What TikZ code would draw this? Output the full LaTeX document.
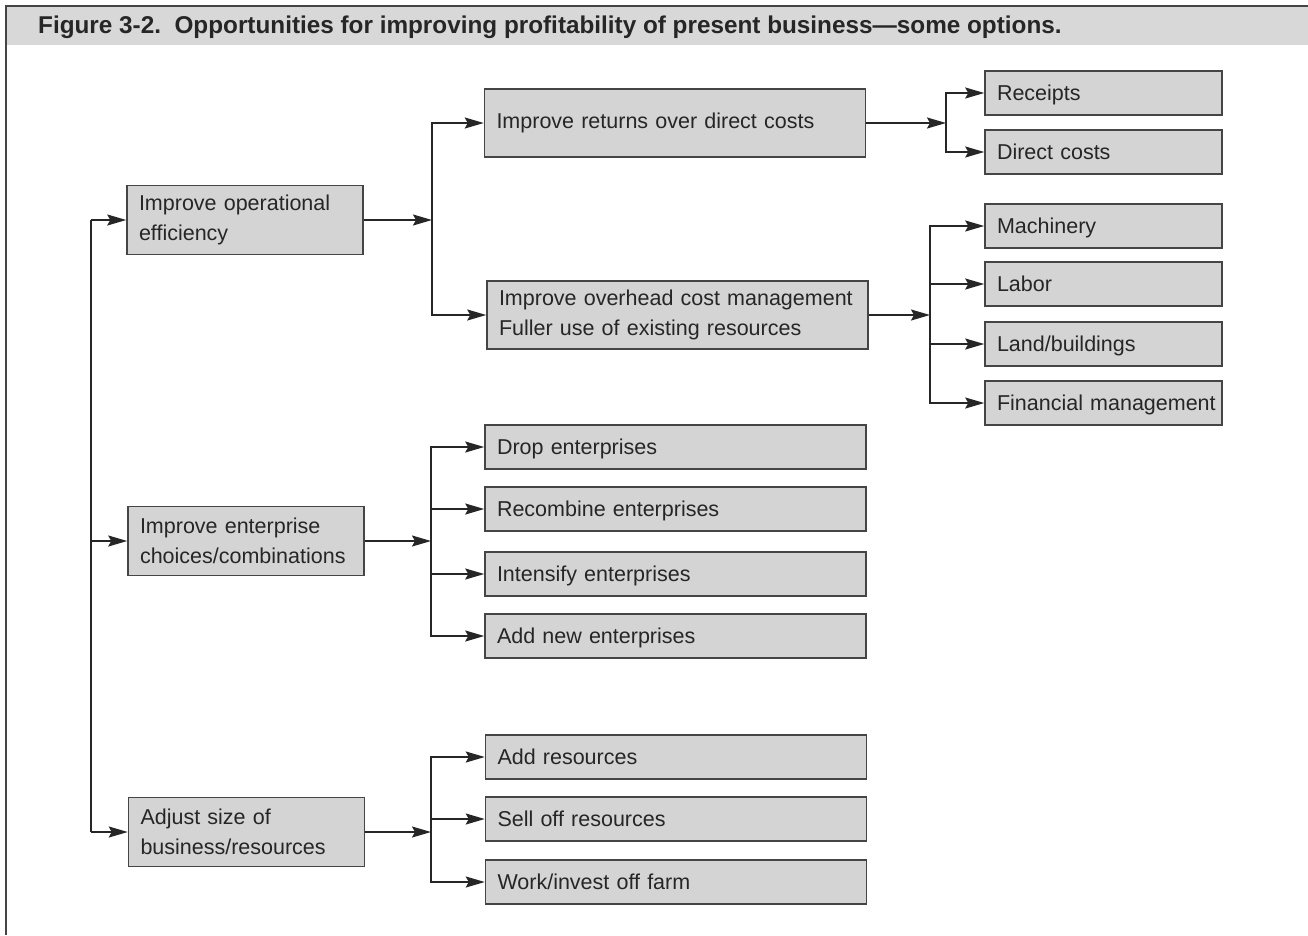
\documentclass[tikz,border=0pt]{standalone}
\usepackage{fontspec}
\setmainfont{Liberation Sans}
\usetikzlibrary{arrows.meta}
\definecolor{boxfill}{HTML}{D4D4D4}
\definecolor{barfill}{HTML}{D8D8D8}
\definecolor{edge}{HTML}{454545}
\definecolor{ink}{HTML}{262626}
\tikzset{
  bx/.style={draw=edge, fill=boxfill, line width=1.5pt, inner xsep=12pt, inner ysep=0pt,
    font=\fontsize{21.5}{30}\selectfont, text=ink, align=left, anchor=center},
  wideA/.style={bx, text width=212pt, minimum height=69pt},
  wideB/.style={bx, text width=357pt, minimum height=68pt},
  leafC/.style={bx, text width=213pt, minimum height=44pt, text height=15.5pt, text depth=0pt},
  leafD/.style={bx, text width=357pt, minimum height=44pt, text height=15.5pt, text depth=0pt},
  conn/.style={draw=ink, line width=1.7pt},
  arr/.style={conn, -{Stealth[inset=3pt, length=19pt, width=11pt]}},
}
\begin{document}
\begin{tikzpicture}[x=1pt, y=-1pt]
\useasboundingbox (0,0) rectangle (1308,935);
% frame and title bar
\fill[barfill] (6,6) rectangle (1308,45);
\draw[edge, line width=1.5pt] (1308,6) -- (6,6) -- (6,935);
\node[anchor=base west, font=\bfseries\fontsize{24.3}{28}\selectfont, text=ink, inner sep=0pt] (title) at (38,33)
  {Figure 3-2.\ \ Opportunities for improving profitability of present business---some options.};

% level A
\node[wideA] (A1) at (245,220) {Improve operational\\efficiency};
\node[wideA] (A2) at (246,541) {Improve enterprise\\choices/combinations};
\node[wideA] (A3) at (246.5,832) {Adjust size of\\business/resources};

% level B
\node[wideB] (B1) at (675,123) {Improve returns over direct costs};
\node[wideB] (B2) at (677.5,315) {Improve overhead cost management\\Fuller use of existing resources};

% level C
\node[leafC] (C1) at (1103.5,93) {Receipts};
\node[leafC] (C2) at (1103.5,152) {Direct costs};
\node[leafC] (C3) at (1103.5,226) {Machinery};
\node[leafC] (C4) at (1103.5,284) {Labor};
\node[leafC] (C5) at (1103.5,344) {Land/buildings};
\node[leafC] (C6) at (1103.5,403) {\mbox{Financial management}};

% enterprise options
\node[leafD] (D1) at (675.5,447) {Drop enterprises};
\node[leafD] (D2) at (675.5,509) {Recombine enterprises};
\node[leafD] (D3) at (675.5,574) {Intensify enterprises};
\node[leafD] (D4) at (675.5,636) {Add new enterprises};

% size options
\node[leafD] (E1) at (676,757) {Add resources};
\node[leafD] (E2) at (676,819) {Sell off resources};
\node[leafD] (E3) at (676,882) {Work/invest off farm};

% trunk
\coordinate (t1) at (91,220);
\coordinate (t2) at (91,541);
\coordinate (t3) at (91,832);
\draw[conn] (t1) -- (t3);
\draw[arr] (t1) -- (A1.west);
\draw[arr] (t2) -- (A2.west);
\draw[arr] (t3) -- (A3.west);

% A1 -> B
\coordinate (jA1) at (432,220);
\draw[arr] (A1.east) -- (jA1);
\draw[arr] (jA1) |- (B1.west);
\draw[arr] (jA1) |- (B2.west);

% B1 -> C1, C2
\coordinate (jB1) at (946,123);
\draw[arr] (B1.east) -- (jB1);
\draw[arr] (jB1) |- (C1.west);
\draw[arr] (jB1) |- (C2.west);

% B2 -> C3..C6
\coordinate (jB2) at (930,315);
\draw[arr] (B2.east) -- (jB2);
\draw[arr] (jB2) |- (C3.west);
\draw[arr] (jB2 |- C4.west) -- (C4.west);
\draw[arr] (jB2 |- C5.west) -- (C5.west);
\draw[arr] (jB2) |- (C6.west);

% A2 -> D
\coordinate (jA2) at (431,541);
\draw[arr] (A2.east) -- (jA2);
\draw[arr] (jA2) |- (D1.west);
\draw[arr] (jA2 |- D2.west) -- (D2.west);
\draw[arr] (jA2 |- D3.west) -- (D3.west);
\draw[arr] (jA2) |- (D4.west);

% A3 -> E
\coordinate (jA3) at (431,832);
\draw[arr] (A3.east) -- (jA3);
\draw[arr] (jA3) |- (E1.west);
\draw[arr] (jA3 |- E2.west) -- (E2.west);
\draw[arr] (jA3) |- (E3.west);
\end{tikzpicture}
\end{document}
